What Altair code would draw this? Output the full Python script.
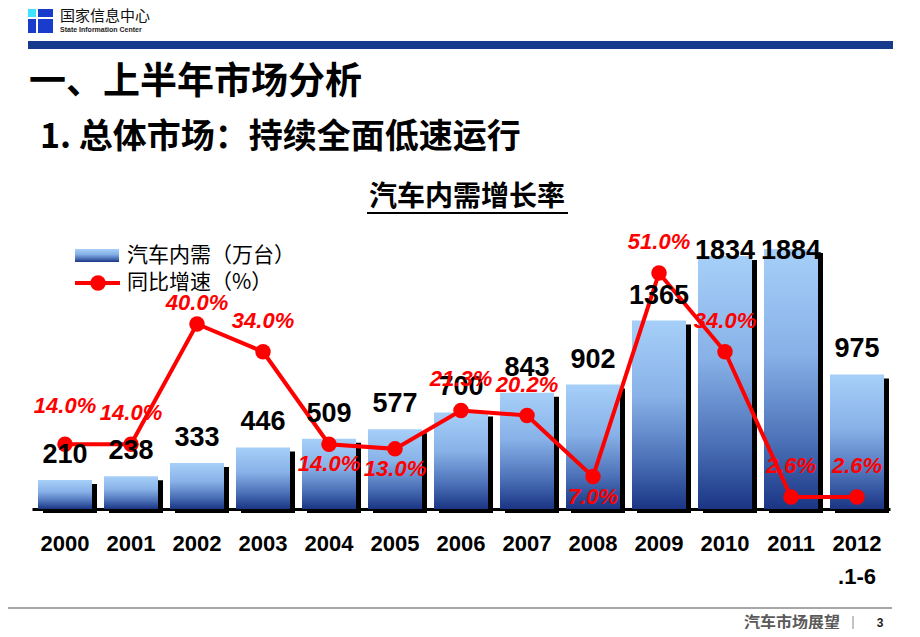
import altair as alt
import pandas as pd

# ---------------- data ----------------
years = ["2000", "2001", "2002", "2003", "2004", "2005", "2006",
         "2007", "2008", "2009", "2010", "2011", "2012.1-6"]
sales = [210, 238, 333, 446, 509, 577, 700, 843, 902, 1365, 1834, 1884, 975]
growth = [14.0, 14.0, 40.0, 34.0, 14.0, 13.0, 21.3, 20.2, 7.0, 51.0, 34.0, 2.6, 2.6]
growth_text = ["14.0%", "14.0%", "40.0%", "34.0%", "14.0%", "13.0%", "21.3%",
               "20.2%", "7.0%", "51.0%", "34.0%", "2.6%", "2.6%"]
# label placement groups for the growth-rate labels
labels_below = ["2004", "2005", "2008"]
labels_high = ["2000"]
labels_close = ["2002"]

df = pd.DataFrame({"year": years, "sales": sales, "growth": growth, "gtext": growth_text})


def group_of(y):
    if y in labels_below:
        return "below"
    if y in labels_high:
        return "high"
    if y in labels_close:
        return "close"
    return "above"


df["pos"] = [group_of(y) for y in years]

OFF = 8  # page margin


def P(v):
    return v - OFF


CJK = "Noto Sans CJK SC"
NUM = "Liberation Sans, Arial"

xscale = alt.Scale(domain=years, range=[P(32), P(890)], paddingInner=0, paddingOuter=0)
xaxis = alt.Axis(title=None, labelAngle=0, domainColor="black", domainWidth=3, ticks=False,
                 grid=False, labelFont="Liberation Sans Narrow, Liberation Sans, Arial",
                 labelFontSize=22, labelFontWeight="bold", labelColor="black",
                 labelPadding=24, labelLineHeight=33,
                 labelExpr="datum.value == '2012.1-6' ? ['2012', '.1-6'] : datum.value")
X = alt.X("year:N", scale=xscale, sort=years, axis=xaxis)

sales_scale = alt.Scale(domain=[0, 3630], zero=True, nice=False)
growth_scale = alt.Scale(domain=[0, 108.3], zero=True, nice=False)

grad = alt.Gradient(
    gradient="linear", x1=0, x2=0, y1=0, y2=1,
    stops=[alt.GradientStop(color="#a6cff8", offset=0),
           alt.GradientStop(color="#88b2e8", offset=0.4),
           alt.GradientStop(color="#4a6fb6", offset=0.75),
           alt.GradientStop(color="#1a3584", offset=1)])

base = alt.Chart(df)

shadow = base.mark_bar(color="black", size=54, xOffset=5, yOffset=4).encode(
    x=X, y=alt.Y("sales:Q", scale=sales_scale, axis=None))
bars = base.mark_bar(fill=grad, size=54, strokeWidth=0).encode(
    x=X, y=alt.Y("sales:Q", scale=sales_scale, axis=None))
line = base.mark_line(color="#ff0000", strokeWidth=4).encode(
    x=X, y=alt.Y("growth:Q", scale=growth_scale, axis=None))
points = base.mark_circle(color="#ff0000", size=240, opacity=1).encode(
    x=X, y=alt.Y("growth:Q", scale=growth_scale, axis=None))
bar_labels = base.transform_calculate(ly="min(datum.sales, 1690)").mark_text(
    font=NUM, fontSize=27, fontWeight="bold", color="black", baseline="alphabetic", dy=-17
).encode(x=X, y=alt.Y("ly:Q", scale=sales_scale, axis=None),
         text=alt.Text("sales:Q", format="d"))


def glabels(group, dy):
    return base.transform_filter(f"datum.pos == '{group}'").mark_text(
        font=NUM, fontSize=22, fontWeight="bold", fontStyle="italic", color="#ff0000",
        baseline="middle", dy=dy
    ).encode(x=X, y=alt.Y("growth:Q", scale=growth_scale, axis=None), text="gtext:N")


g_layers = [glabels("above", -31), glabels("below", 20), glabels("high", -38),
            glabels("close", -21)]

# ---------------- slide decorations ----------------
one = alt.Chart(pd.DataFrame({"k": [0]}))


def text(s, x, y, **kw):
    return one.mark_text(text=s, **kw).encode(x=alt.value(P(x)), y=alt.value(P(y)))


def rect(x1, y1, x2, y2, **kw):
    return one.mark_rect(**kw).encode(x=alt.value(P(x1)), x2=alt.value(P(x2)),
                                       y=alt.value(P(y1)), y2=alt.value(P(y2)))


def rule(x1, y1, x2, y2, **kw):
    return one.mark_rule(**kw).encode(x=alt.value(P(x1)), x2=alt.value(P(x2)),
                                       y=alt.value(P(y1)), y2=alt.value(P(y2)))


deco = [
    rect(28, 9, 53, 33, fill="#1a3ccc"),
    rect(28, 9, 36, 17, fill="#3fe3ff"),
    rule(37, 9, 37, 33, color="white", strokeWidth=2),
    rule(28, 18, 53, 18, color="white", strokeWidth=2),
    text("国家信息中心", 60, 16, font=CJK, fontSize=15, align="left", baseline="middle", color="#111"),
    text("State Information Center", 60, 30, font=NUM, fontSize=7, fontWeight="bold",
         align="left", baseline="middle", color="#222"),
    rect(28, 41, 893, 49, fill="#163a8c"),
    text("一、上半年市场分析", 29, 83, font=CJK, fontSize=37, fontWeight="bold",
         align="left", baseline="middle", color="black"),
    text("1. 总体市场：持续全面低速运行", 40, 138, font=CJK, fontSize=34, fontWeight="bold",
         align="left", baseline="middle", color="black"),
    text("汽车内需增长率", 467, 198, font=CJK, fontSize=28, fontWeight="bold",
         align="center", baseline="middle", color="black"),
    rule(367, 213, 568, 213, color="black", strokeWidth=2),
    # legend
    rect(75, 249, 119, 262, fill=grad),
    text("汽车内需（万台）", 127, 256, font=CJK, fontSize=21, align="left", baseline="middle",
         color="black"),
    rule(75, 283, 120, 283, color="#ff0000", strokeWidth=4),
    one.mark_circle(color="#ff0000", size=240, opacity=1).encode(x=alt.value(P(98)), y=alt.value(P(283))),
    text("同比增速（%）", 127, 283, font=CJK, fontSize=21, align="left", baseline="middle",
         color="black"),
    # footer
    rule(0, 608, 892, 608, color="#a6a6a6", strokeWidth=2),
    text("汽车市场展望", 840, 623, font=CJK, fontSize=16, fontWeight="bold", align="right",
         baseline="middle", color="#5a5a5a"),
    rule(853, 616, 853, 630, color="#888888", strokeWidth=1),
    text("3", 880, 623, font=NUM, fontSize=12, fontWeight="bold", align="center",
         baseline="middle", color="#222"),
]

chart = alt.layer(shadow, bars, line, points, bar_labels, *g_layers, *deco).resolve_scale(
    y="independent"
).properties(
    width=904, height=501,
    autosize=alt.AutoSizeParams(type="none"),
    padding={"left": 0, "top": 0, "right": 0, "bottom": 120},
    background="white",
).configure_view(strokeWidth=0)

chart.save("out.html", embed_options={"renderer": "svg", "actions": False})
